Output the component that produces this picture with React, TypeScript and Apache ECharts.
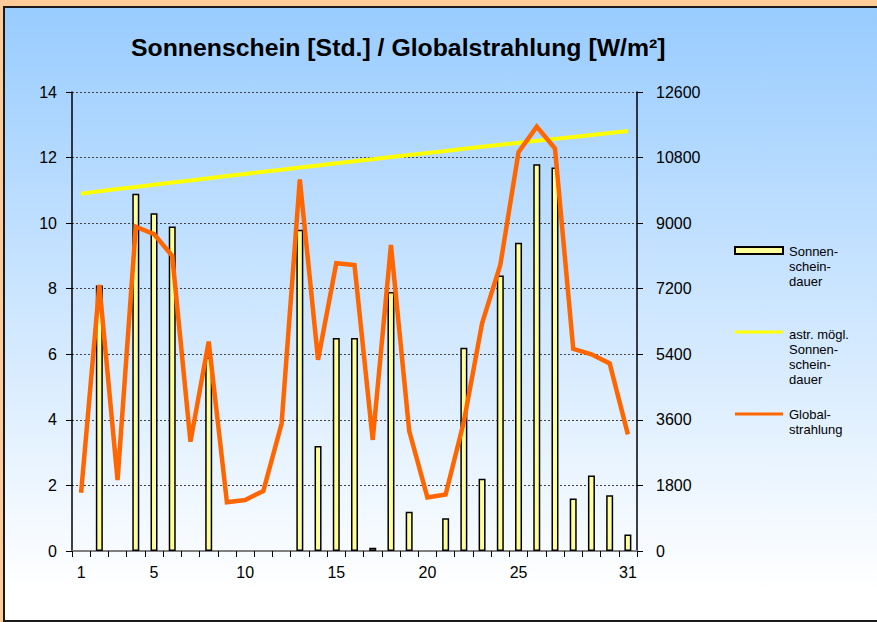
import React, { useEffect, useRef } from "react";
import * as echarts from "echarts";

const days = ["1","2","3","4","5","6","7","8","9","10","11","12","13","14","15","16","17","18","19","20","21","22","23","24","25","26","27","28","29","30","31"];

const sunshine = [0, 8.1, 0, 10.9, 10.3, 9.9, 0, 5.9, 0, 0, 0, 0, 9.8, 3.2, 6.5, 6.5, 0.1, 7.9, 1.2, 0, 1.0, 6.2, 2.2, 8.4, 9.4, 11.8, 11.7, 1.6, 2.3, 1.7, 0.5];

const possibleSunshine = [10.9, 10.97, 11.04, 11.1, 11.17, 11.24, 11.3, 11.37, 11.44, 11.5, 11.57, 11.63, 11.7, 11.76, 11.83, 11.89, 11.95, 12.02, 12.08, 12.14, 12.2, 12.27, 12.33, 12.39, 12.45, 12.51, 12.57, 12.63, 12.69, 12.75, 12.81];

const radiation = [1600, 7300, 1950, 8900, 8700, 8100, 3000, 5750, 1340, 1400, 1650, 3500, 10200, 5250, 7900, 7850, 3050, 8400, 3300, 1470, 1550, 3550, 6250, 7850, 10950, 11650, 11050, 5550, 5400, 5150, 3200];

const leftTicks = { min: 0, max: 14, interval: 2 };
const rightTicks = { min: 0, max: 12600, interval: 1800 };
const shownLabels = [0, 4, 9, 14, 19, 24, 30];

const seriesNames = ["Sonnen-\nschein-\ndauer", "astr. mögl.\nSonnen-\nschein-\ndauer", "Global-\nstrahlung"];

const FONT = "'Liberation Sans', Arial, sans-serif";

export default function App() {
  const ref = useRef<HTMLDivElement>(null);
  useEffect(() => {
    if (!ref.current) return;
    const chart = echarts.init(ref.current, null, { renderer: "svg" });
    chart.setOption({
      animation: false,
      backgroundColor: "transparent",
      textStyle: { fontFamily: FONT },
      title: {
        text: "Sonnenschein [Std.] / Globalstrahlung [W/m²]",
        left: 126,
        top: 30,
        textStyle: { fontFamily: FONT, fontSize: 24.8, fontWeight: "bold", color: "#000" },
      },
      grid: { left: 72, right: 240, top: 92, bottom: 71, containLabel: false },
      xAxis: [
        {
          type: "category",
          data: days,
          boundaryGap: true,
          axisLine: { lineStyle: { color: "#000", width: 1.5 } },
          axisTick: { show: true, interval: 0, length: 6, lineStyle: { color: "#000", width: 1 } },
          axisLabel: {
            interval: (i: number) => shownLabels.includes(i),
            fontSize: 16,
            color: "#000",
            margin: 13,
            fontFamily: FONT,
          },
          splitLine: { show: false },
        },
        {
          type: "category",
          data: days,
          position: "top",
          axisLine: { show: true, lineStyle: { color: "#808080", width: 2 } },
          axisTick: { show: false },
          axisLabel: { show: false },
          splitLine: { show: false },
        },
      ],
      yAxis: [
        {
          type: "value",
          ...leftTicks,
          position: "left",
          axisLine: { show: true, lineStyle: { color: "#000", width: 1.5 } },
          axisTick: { show: true, length: 6, lineStyle: { color: "#000" } },
          axisLabel: { fontSize: 16, color: "#000", margin: 15, fontFamily: FONT },
          splitLine: { show: true, lineStyle: { color: "#444", width: 1, type: [2, 2] } },
        },
        {
          type: "value",
          ...rightTicks,
          position: "right",
          axisLine: { show: true, lineStyle: { color: "#000", width: 1.5 } },
          axisTick: { show: true, length: 6, lineStyle: { color: "#000" } },
          axisLabel: { fontSize: 16, color: "#000", margin: 19, fontFamily: FONT, formatter: (v: number) => String(v) },
          splitLine: { show: false },
        },
      ],
      series: [
        {
          name: seriesNames[0],
          type: "bar",
          data: sunshine.map((v) => (v === 0 ? { value: v, itemStyle: { borderWidth: 0 } } : v)),
          yAxisIndex: 0,
          barWidth: 7,
          itemStyle: { color: "#FFFF99", borderColor: "#000", borderWidth: 1.5 },
        },
        {
          name: seriesNames[1],
          type: "line",
          data: possibleSunshine,
          yAxisIndex: 0,
          showSymbol: false,
          symbol: "none",
          lineStyle: { color: "#FFFF00", width: 4 },
        },
        {
          name: seriesNames[2],
          type: "line",
          data: radiation,
          yAxisIndex: 1,
          showSymbol: false,
          symbol: "none",
          lineStyle: { color: "#FF6600", width: 4.5, join: "miter" },
        },
      ],
      graphic: [
        { type: "rect", shape: { x: 735, y: 247, width: 48, height: 7 }, style: { fill: "#FFFF99", stroke: "#000", lineWidth: 2 } },
        { type: "text", x: 789, y: 244, style: { text: seriesNames[0], font: `13px ${FONT}`, lineHeight: 15, fill: "#000" } },
        { type: "line", shape: { x1: 735, y1: 332, x2: 783, y2: 332 }, style: { stroke: "#FFFF00", lineWidth: 3 } },
        { type: "text", x: 789, y: 327, style: { text: seriesNames[1], font: `13px ${FONT}`, lineHeight: 15, fill: "#000" } },
        { type: "line", shape: { x1: 735, y1: 414, x2: 783, y2: 414 }, style: { stroke: "#FF6600", lineWidth: 3 } },
        { type: "text", x: 789, y: 407, style: { text: seriesNames[2], font: `13px ${FONT}`, lineHeight: 15, fill: "#000" } },
      ],
    });
    return () => chart.dispose();
  }, []);

  return (
    <div style={{ position: "fixed", left: 0, top: 0, width: 877, height: 622, background: "#FFCC99", overflow: "hidden" }}>
      <div
        style={{
          position: "absolute",
          left: 3,
          top: 6,
          width: 900,
          height: 612,
          border: "2px solid #1a1a1a",
          background: "linear-gradient(to bottom, #99CCFF 0%, #FFFFFF 95%)",
        }}
      />
      <div ref={ref} style={{ position: "absolute", left: 0, top: 0, width: 877, height: 622 }} />
    </div>
  );
}
